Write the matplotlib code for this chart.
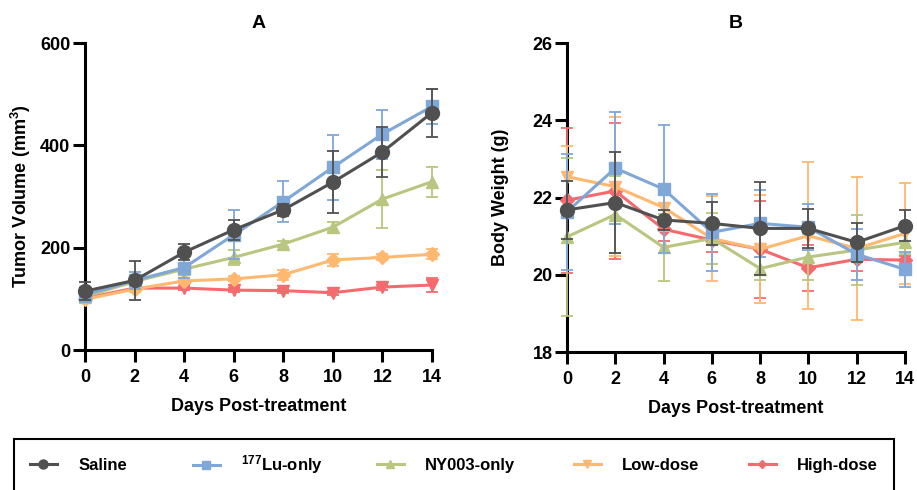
import numpy as np
import matplotlib
matplotlib.use("Agg")
import matplotlib.pyplot as plt
from matplotlib.patches import Rectangle
from matplotlib.lines import Line2D

plt.rcParams['font.family'] = ['Liberation Sans', 'DejaVu Sans']
plt.rcParams['font.weight'] = 'bold'
plt.rcParams['mathtext.fontset'] = 'custom'
plt.rcParams['mathtext.bf'] = 'Liberation Sans:bold'
plt.rcParams['mathtext.rm'] = 'Liberation Sans:bold'
plt.rcParams['mathtext.default'] = 'bf'

# --- data ---
days = [0, 2, 4, 6, 8, 10, 12, 14]
groups = ["Saline", "$^{177}$Lu-only", "NY003-only", "Low-dose", "High-dose"]
colors = ["#505050", "#7fa7d8", "#b8c67f", "#ffb870", "#f46a6e"]

# panel A: tumor volume (mm3)
vol_saline = [115, 136, 191, 235, 274, 328, 387, 464]
vol_saline_err = [17, 38, 16, 20, 12, 61, 49, 47]
vol_lu = [108, 136, 161, 225, 290, 357, 422, 476]
vol_lu_err = [15, 16, 20, 48, 40, 63, 48, 35]
vol_ny = [104, 134, 158, 181, 207, 240, 295, 329]
vol_ny_err = [10, 10, 12, 15, 6, 10, 56, 29]
vol_low = [99, 119, 135, 139, 147, 176, 181, 187]
vol_low_err = [8, 6, 5, 5, 10, 12, 6, 10]
vol_high = [101, 121, 121, 117, 116, 112, 123, 127]
vol_high_err = [6, 6, 4, 4, 4, 4, 5, 13]

# panel B: body weight (g)
bw_saline = [21.68, 21.87, 21.42, 21.33, 21.20, 21.20, 20.84, 21.27]
bw_saline_err = [0.75, 1.30, 0.25, 0.56, 1.20, 0.50, 0.50, 0.40]
bw_lu = [21.63, 22.76, 22.22, 21.10, 21.33, 21.23, 20.53, 20.14]
bw_lu_err = [1.50, 1.45, 1.66, 1.00, 0.87, 0.60, 0.66, 0.45]
bw_ny = [20.98, 21.56, 20.71, 20.94, 20.16, 20.46, 20.64, 20.84]
bw_ny_err = [2.05, 1.00, 0.87, 0.65, 0.30, 0.60, 0.90, 0.30]
bw_low = [22.54, 22.28, 21.74, 20.94, 20.66, 21.01, 20.68, 21.07]
bw_low_err = [0.80, 1.80, 0.60, 1.10, 1.40, 1.90, 1.85, 1.30]
bw_high = [21.93, 22.17, 21.18, 20.90, 20.66, 20.18, 20.40, 20.38]
bw_high_err = [1.88, 1.77, 0.30, 0.30, 1.26, 0.60, 0.30, 0.10]

vol = [vol_saline, vol_lu, vol_ny, vol_low, vol_high]
vol_err = [vol_saline_err, vol_lu_err, vol_ny_err, vol_low_err, vol_high_err]
bw = [bw_saline, bw_lu, bw_ny, bw_low, bw_high]
bw_err = [bw_saline_err, bw_lu_err, bw_ny_err, bw_low_err, bw_high_err]

markers_a = ["o", "s", "^", "D", "v"]
markers_b = ["o", "s", "^", "v", "D"]
msize = {"o": 10, "s": 9, "^": 9, "v": 9, "D": 7}

fig = plt.figure(figsize=(9.17, 4.9), dpi=100)
axA = fig.add_axes([0.0927, 0.2857, 0.3784, 0.6265])
axB = fig.add_axes([0.6183, 0.2816, 0.3686, 0.6306])


def draw(ax, ys, errs, markers):
    # reverse order so Saline sits on top
    for i in reversed(range(len(groups))):
        ax.errorbar(days, ys[i], yerr=errs[i], color=colors[i], marker=markers[i],
                    ms=msize[markers[i]], lw=2.2, elinewidth=1.3, capsize=4,
                    capthick=1.3, clip_on=False, zorder=3 + (4 - i))


def style(ax):
    for s in ["top", "right"]:
        ax.spines[s].set_visible(False)
    for s in ["left", "bottom"]:
        ax.spines[s].set_linewidth(2.2)
    ax.tick_params(width=2.2, length=8.5, labelsize=13)
    ax.tick_params(axis="x", pad=5)
    ax.tick_params(axis="y", pad=2)
    ax.set_xlim(0, 14)
    ax.set_xticks(days)
    for lab in ax.get_xticklabels() + ax.get_yticklabels():
        lab.set_fontweight("bold")
    ax.set_xlabel("Days Post-treatment", fontsize=13, fontweight="bold", labelpad=9)


draw(axA, vol, vol_err, markers_a)
style(axA)
axA.set_ylim(0, 600)
axA.set_yticks([0, 200, 400, 600])
axA.set_ylabel("Tumor Volume (mm$^{3}$)", fontsize=13, fontweight="bold", labelpad=5)
axA.set_title("A", fontsize=14, fontweight="bold", pad=11)

draw(axB, bw, bw_err, markers_b)
style(axB)
axB.set_ylim(18, 26)
axB.set_yticks([18, 20, 22, 24, 26])
axB.set_ylabel("Body Weight (g)", fontsize=13, fontweight="bold", labelpad=17)
axB.set_title("B", fontsize=14, fontweight="bold", pad=11)

# legend box runs off the bottom edge
fig.patches.append(Rectangle((14 / 917, -0.05), 880 / 917, 0.05 + 51 / 490,
                             transform=fig.transFigure, fill=False,
                             edgecolor="black", lw=1.5))
entry_x = [30, 193, 377, 574, 749]
for i in range(len(groups)):
    h = Line2D([], [], color=colors[i], marker=markers_b[i], lw=2.2,
               ms=msize[markers_b[i]] * 0.65)
    fig.legend([h], [groups[i]], loc="center left",
               bbox_to_anchor=(entry_x[i] / 917, 1 - 465 / 490),
               frameon=False, handlelength=1.6, handletextpad=1.3,
               borderpad=0, borderaxespad=0,
               prop={"weight": "bold", "size": 12})

fig.savefig("out.png", dpi=100)
